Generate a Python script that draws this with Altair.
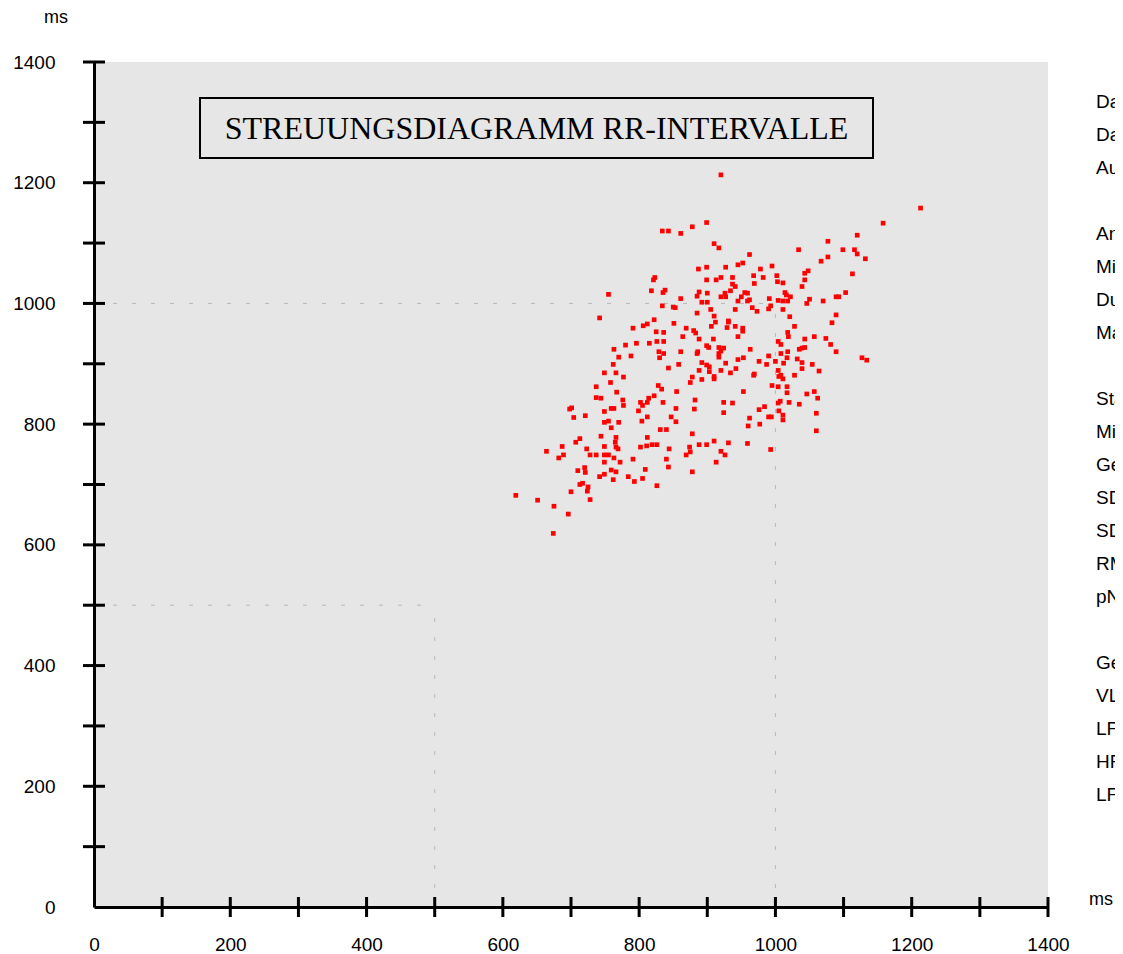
import altair as alt
import pandas as pd

# RR(n) [ms] on x, RR(n+1) [ms] on y
rr_x = [
    834, 843, 861, 878, 887, 823, 821, 755, 818, 838, 835, 861, 888, 885, 834, 850, 853, 885, 742, 822,
    851, 791, 806, 812, 869, 880, 883, 825, 836, 864, 888, 780, 796, 815, 826, 836, 763, 770, 788, 829,
    836, 830, 861, 885, 886,
    920, 899, 1158, 910, 917, 1120, 1077, 1034, 1099, 1116, 1120, 1077, 1132, 1067, 962, 945, 952, 995, 1048, 1043,
    899, 927, 978, 1113, 899, 913, 920, 937, 968, 982, 1002, 1043, 1003, 1011, 969, 937, 941, 1039, 934, 926,
    955, 959, 900,
    920, 927, 950, 962, 959, 945, 892, 900, 991, 1014, 1016, 1022, 1004, 1011, 1018, 1050, 1046, 1070, 1089, 1093,
    1103,
    905, 941, 966, 973, 993, 990, 1011, 910, 912, 931, 931, 906, 929, 941, 952, 952, 1021, 1028, 1089, 1083,
    1018, 1019, 945, 909,
    1057, 1074, 1043, 899, 902, 917, 924, 920, 917, 917, 963, 1004, 1008, 1018, 1008, 1035, 1039, 1043, 1081, 1089,
    953, 945, 990, 1017, 1032, 1127, 1134,
    762, 749, 766, 777, 758, 737, 767, 737, 744, 776, 777, 698, 701, 704, 721, 749, 759, 763, 749, 755,
    770, 759, 744, 713, 707, 766, 765, 766, 769, 749, 723, 687, 664, 689, 682, 728, 737, 749, 755, 763,
    749, 772, 720, 710, 721, 742, 749, 759, 766, 762, 784, 793, 805, 809, 791, 713, 717, 725, 724, 700,
    728, 619, 651, 675, 696, 674,
    826, 840, 843, 844, 802, 811, 819, 826, 812, 831, 840, 804, 812, 799, 805, 802, 812, 814, 822, 828,
    833, 835, 843, 858, 855, 847, 854, 854, 875, 878, 888, 882, 881, 878, 888, 874, 875, 869, 878,
    892, 899, 903, 903, 910, 910, 892, 920, 927, 934, 942, 976, 987, 1000, 1012, 1004, 1008, 1005, 1011, 968,
    969, 1028, 1039, 1039, 1054, 1064, 995, 1004, 1017, 1017, 953, 1046, 1057, 1062, 1007, 1004, 1020, 1035, 924, 937,
    984, 976, 1005, 1011, 1011, 990, 994, 924, 962, 960, 977, 1060, 1060, 910, 931, 959, 899, 920, 926, 913,
    993,
    1213,
]
rr_y = [
    1120, 1120, 1116, 1127, 1057, 1043, 1039, 1015, 1021, 1022, 1018, 1008, 1019, 1012, 996, 994, 993, 984, 976, 973,
    967, 959, 963, 966, 959, 955, 951, 953, 952, 945, 941, 931, 934, 934, 937, 937, 924, 911, 913, 920,
    917, 910, 920, 917, 920,
    1213, 1134, 1133, 1099, 1092, 1113, 1103, 1089, 1089, 1089, 1082, 1077, 1074, 1070, 1081, 1064, 1067, 1062, 1054, 1050,
    1060, 1060, 1057, 1049, 1039, 1039, 1043, 1043, 1046, 1043, 1046, 1039, 1036, 1034, 1033, 1032, 1028, 1028, 1021, 1017,
    1018, 1017, 1017,
    1011, 1011, 1011, 1006, 1004, 1004, 1002, 1002, 1008, 1018, 1014, 1011, 1005, 1004, 1004, 1007, 1000, 1004, 1011, 1011,
    1018,
    990, 990, 993, 987, 996, 991, 990, 979, 969, 971, 969, 962, 960, 962, 959, 954, 978, 962, 981, 968,
    952, 945, 945, 941,
    945, 942, 941, 930, 927, 927, 926, 921, 917, 911, 924, 937, 932, 920, 917, 924, 926, 927, 932, 920,
    910, 907, 913, 910, 908, 910, 906,
    899, 885, 885, 878, 869, 862, 853, 844, 843, 840, 831, 825, 827, 811, 814, 821, 826, 826, 803, 805,
    803, 794, 780, 776, 770, 778, 770, 762, 759, 763, 759, 763, 755, 749, 744, 749, 749, 749, 749, 744,
    737, 737, 728, 723, 720, 713, 717, 724, 721, 708, 713, 705, 710, 725, 742, 700, 702, 696, 689, 688,
    675, 682, 674, 664, 651, 619,
    698, 742, 729, 759, 762, 764, 766, 766, 778, 791, 791, 805, 812, 822, 831, 836, 836, 843, 847, 864,
    858, 836, 893, 899, 854, 812, 826, 804, 869, 878, 889, 840, 825, 784, 766, 762, 754, 749, 721,
    902, 898, 895, 887, 879, 875, 874, 889, 901, 885, 892, 904, 899, 904, 901, 889, 881, 879, 875, 881,
    883, 881, 902, 892, 899, 888, 864, 862, 862, 852, 854, 850, 854, 843, 838, 835, 836, 833, 836, 835,
    829, 824, 822, 815, 807, 812, 812, 819, 810, 797, 800, 818, 789, 772, 769, 768, 766, 755, 749, 737,
    758,
    1158,
]

tick_vals = list(range(100, 1500, 100))
label_vals = list(range(0, 1600, 200))
ref_levels = [1000, 500]
title_text = "STREUUNGSDIAGRAMM RR-INTERVALLE"
unit = "ms"
info_lines = [
    "Datum:", "Dauer:", "Auswertung:", "",
    "Anzahl RR:", "Minimum:", "Durchschnitt:", "Maximum:", "",
    "Statistik:", "Mittelwert:", "Gesamt-SD:", "SDNN:", "SDANN:", "RMSSD:", "pNN50:", "",
    "Gesamtleistung:", "VLF:", "LF:", "HF:", "LF/HF:",
]

W, H = 954, 845
FONT = "Liberation Sans"
xs = alt.Scale(domain=[0, 1400], nice=False, zero=True)
ys = alt.Scale(domain=[0, 1400], nice=False, zero=True)

ax_x = alt.Axis(values=label_vals, format="d", ticks=False, tickSize=0, grid=False,
                domainColor="black", domainWidth=3, labelPadding=28, labelFontSize=19,
                labelFont=FONT, labelColor="black", labelFlush=False, title="")
ax_y = alt.Axis(values=label_vals, format="d", ticks=False, tickSize=0, grid=False,
                domainColor="black", domainWidth=3, labelPadding=39, labelFontSize=19,
                labelFont=FONT, labelColor="black", labelFlush=False, title="")

refs = pd.DataFrame({"lvl": ref_levels})
h_ref = alt.Chart(refs).mark_rule(color="#b8b8b8", strokeDash=[4, 15], strokeWidth=1).encode(
    x=alt.X("zero:Q", scale=xs, axis=ax_x), x2="lvl:Q", y=alt.Y("lvl:Q", scale=ys, axis=ax_y)
).transform_calculate(zero="0")
v_ref = alt.Chart(refs).mark_rule(color="#b8b8b8", strokeDash=[4, 15], strokeWidth=1).encode(
    y=alt.Y("zero:Q", scale=ys, axis=ax_y), y2="lvl:Q", x=alt.X("lvl:Q", scale=xs, axis=ax_x)
).transform_calculate(zero="0")

pts = alt.Chart(pd.DataFrame({"x": rr_x, "y": rr_y})).mark_square(
    size=22, color="#ff0000", opacity=1
).encode(
    x=alt.X("x:Q", scale=xs, axis=ax_x),
    y=alt.Y("y:Q", scale=ys, axis=ax_y),
)

ticks_df = pd.DataFrame({"v": tick_vals})
y_ticks = alt.Chart(ticks_df).mark_rule(color="black", strokeWidth=3).encode(
    y=alt.Y("v:Q", scale=ys, axis=ax_y), x=alt.value(-11), x2=alt.value(11)
)
x_ticks = alt.Chart(ticks_df).mark_rule(color="black", strokeWidth=3).encode(
    x=alt.X("v:Q", scale=xs, axis=ax_x), y=alt.value(H - 10), y2=alt.value(H + 10)
)

title_df = pd.DataFrame({"t": [title_text]})
box = alt.Chart(title_df).mark_rect(fill="#e6e6e6", stroke="black", strokeWidth=2).encode(
    x=alt.value(106), x2=alt.value(779), y=alt.value(36), y2=alt.value(96)
)
title = alt.Chart(title_df).mark_text(
    font="Liberation Serif", fontSize=32, color="black", align="center", baseline="middle"
).encode(x=alt.value(442.5), y=alt.value(67), text="t:N")

unit_df = pd.DataFrame({"t": [unit]})
unit_y = alt.Chart(unit_df).mark_text(font=FONT, fontSize=18, color="black", align="center",
                                      baseline="middle").encode(
    x=alt.value(-38), y=alt.value(-44), text="t:N")
unit_x = alt.Chart(unit_df).mark_text(font=FONT, fontSize=18, color="black", align="right",
                                      baseline="middle").encode(
    x=alt.value(1019), y=alt.value(838), text="t:N")

# side panel: one text line per row, stacked with a fixed line pitch
info = alt.Chart(pd.DataFrame({"line": info_lines})).transform_window(
    idx="row_number()"
).transform_calculate(
    ypx="46 + 33 * (datum.idx - 1)"
).mark_text(
    font=FONT, fontSize=19, color="black", align="left", baseline="alphabetic"
).encode(x=alt.value(1002), y=alt.Y("ypx:Q", scale=None), text="line:N")

chart = alt.layer(
    h_ref, v_ref, box, title, pts, y_ticks, x_ticks, unit_y, unit_x, info
).properties(
    width=W, height=H,
    autosize=alt.AutoSizeParams(type="none"),
    padding={"left": 86, "top": 54, "right": 67, "bottom": 46},
    background="white",
).configure_view(fill="#e6e6e6", strokeWidth=0)

chart.save("out.html", embed_options={"renderer": "svg", "actions": False})
